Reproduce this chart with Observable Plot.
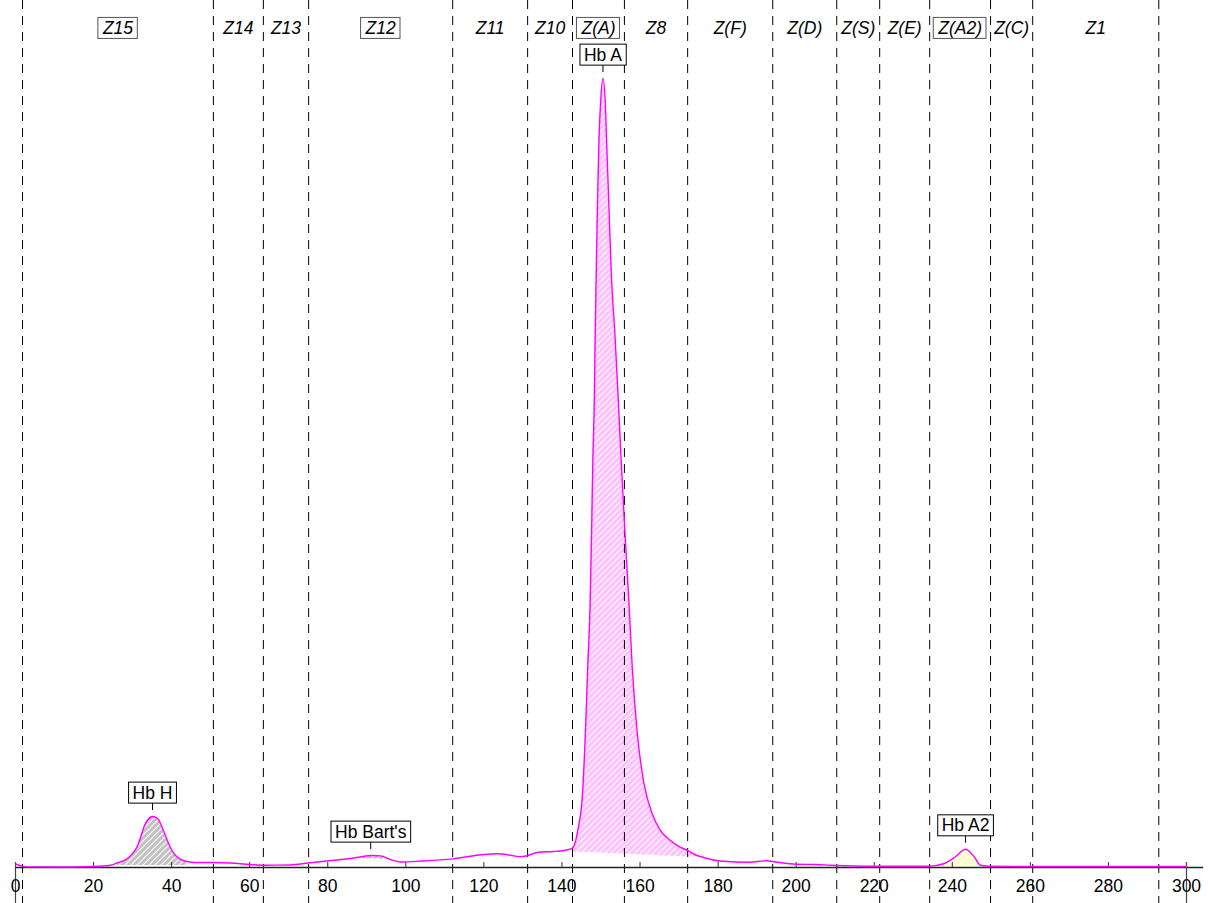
<!DOCTYPE html>
<html>
<head>
<meta charset="utf-8">
<script src="https://cdn.jsdelivr.net/npm/d3@7"></script>
<script src="https://cdn.jsdelivr.net/npm/@observablehq/plot@0.6"></script>
<style>
  html, body { margin: 0; padding: 0; background: #fff; }
  #chart { width: 1208px; height: 903px; }
</style>
</head>
<body>
<div id="chart"></div>
<script>
// ---- Data (retention time, signal) ----
const times = [0, 1.5, 2.6, 10, 20, 24.3, 26, 27.5, 28.7, 31.3, 33.3, 35.1, 36.4, 37.9, 39.2, 41, 43, 44, 46, 50.7,
  55, 60, 64, 70.5, 75, 80.9, 87, 89, 91, 93.5, 96, 98.6, 104, 112, 120, 123.5, 126.8, 129.4, 131, 133.7,
  137.8, 139.6, 141.4, 142.7, 144.2, 145.2, 146.0, 146.6, 147.2, 147.6, 147.9, 148.3, 148.5, 148.8, 149.1, 149.5, 149.9,
  150.5, 151.1, 151.4, 152.0, 152.6, 153.6, 154.4, 155.2, 156.1, 157.2, 158.0, 159.3, 161.0, 163.1, 165.2, 167.8,
  170, 172.2, 174, 176.3, 180.6, 188, 192.5, 194, 200, 205, 209, 220, 234, 238, 240.8, 243.4, 245.6, 247.2, 249.8, 260, 300];
const signal = [0.47, 0.19, 0.08, 0.06, 0.13, 0.29, 0.57, 0.82, 1.14, 2.79, 5.58, 6.47, 6.22, 4.70, 3.05, 1.52, 0.89, 0.76, 0.63, 0.63,
  0.57, 0.38, 0.29, 0.32, 0.57, 0.89, 1.23, 1.40, 1.52, 1.48, 1.02, 0.70, 0.82, 1.10, 1.65, 1.74, 1.56, 1.36, 1.48, 1.90,
  2.03, 2.09, 2.25, 2.45, 5.08, 8.88, 17.0, 25.4, 33.2, 42.8, 51.3, 59.6, 67.3, 75.8, 84.3, 92.6, 97.0,
  100.1, 97.0, 92.6, 84.3, 75.8, 67.3, 59.6, 51.3, 42.8, 33.2, 25.4, 17.0, 10.66, 6.85, 4.70, 3.43,
  2.66, 2.16, 1.65, 1.27, 0.82, 0.67, 0.85, 0.76, 0.42, 0.38, 0.29, 0.16, 0.16, 0.51, 1.36, 2.32, 1.36, 0.29, 0.16, 0.13, 0.13];

// Zones
const zoneBounds = [1.8, 50.7, 63.5, 75.1, 112.0, 131.2, 142.7, 156.0, 172.2, 194.0, 210.4, 221.4, 234.2, 249.8, 260.6, 292.9];
const zoneNames = ["Z15", "Z14", "Z13", "Z12", "Z11", "Z10", "Z(A)", "Z8", "Z(F)", "Z(D)", "Z(S)", "Z(E)", "Z(A2)", "Z(C)", "Z1"];
const boxedZones = ["Z15", "Z12", "Z(A)", "Z(A2)"];

// Peaks
const peakNames = ["Hb H", "Hb Bart's", "Hb A", "Hb A2"];
const peakTimes = [35.1, 91.0, 150.5, 243.4];
const peakHeights = [6.47, 1.52, 100.1, 2.32];

// Integrated areas (start, end, baseline at start, baseline at end, fill)
const areaStart = [26, 89, 142.7, 238];
const areaEnd = [44, 96, 176.3, 247.2];
const areaBase0 = [0.25, 1.08, 1.97, 0.13];
const areaBase1 = [0.25, 1.05, 1.27, 0.13];
const areaFill = ["url(#hatchGray)", "url(#hatchGray)", "url(#hatchPink)", "url(#hatchYellow)"];

const xTicks = [0, 20, 40, 60, 80, 100, 120, 140, 160, 180, 200, 220, 240, 260, 280, 300];

// ---- Build ----
const data = times.map((t, i) => ({t, v: signal[i]}));
const peaks = peakNames.map((name, i) => ({name, t: peakTimes[i], v: peakHeights[i]}));
const zones = zoneNames.map((name, i) => ({name, t: (zoneBounds[i] + zoneBounds[i + 1]) / 2}));

const H = 903, MB = 36, MT = 0, YMAX = 110;
const k = (H - MB - MT) / YMAX; // px per unit

const areaMarks = areaStart.map((s, j) => {
  const e = areaEnd[j];
  const sub = data.filter(d => d.t >= s && d.t <= e);
  const base = d => areaBase0[j] + (areaBase1[j] - areaBase0[j]) * (d.t - s) / (e - s);
  return Plot.areaY(sub, {x: "t", y1: base, y2: "v", fill: areaFill[j], curve: "monotone-x"});
});

const FONT = "'Liberation Sans', Arial, sans-serif";

const chart = Plot.plot({
  width: 1208,
  height: H,
  marginLeft: 15,
  marginRight: 22,
  marginTop: MT,
  marginBottom: MB,
  style: {fontFamily: FONT, fontSize: "17px", color: "#000", background: "#fff", overflow: "visible"},
  x: {domain: [0, 300], axis: null},
  y: {domain: [0, YMAX], axis: null},
  marks: [
    ...areaMarks,
    Plot.ruleX(zoneBounds, {y1: YMAX, y2: -MB / k, stroke: "#000", strokeWidth: 1, strokeDasharray: "9,7", clip: false}),
    Plot.ruleY([0], {x1: 0, x2: 304.4, stroke: "#222", strokeWidth: 1.3}),
    Plot.ruleX(xTicks, {y1: 0, y2: 5 / k, stroke: "#333", strokeWidth: 1}),
    Plot.ruleX([0, 300], {y1: 5 / k, y2: -MB / k, stroke: "#444", strokeWidth: 1.2}),
    Plot.text(xTicks, {x: d => d, y: 0, dy: 18.5, text: d => String(d), fontSize: 17.5, fill: "#000", fontFamily: FONT}),
    Plot.lineY(data, {x: "t", y: "v", stroke: "#ff00ff", strokeWidth: 1.4, curve: "monotone-x"}),
    Plot.ruleX(peaks, {x: "t", y1: d => d.v + 6 / k, y2: d => d.v + 13 / k, stroke: "#000", strokeWidth: 1}),
    Plot.text(zones, {x: "t", text: "name", frameAnchor: "top", dy: 21, fontStyle: "italic", fontSize: 17.5, fill: "#000", fontFamily: FONT}),
    Plot.text(peaks, {x: "t", y: "v", text: "name", dy: -23.5, fontSize: 17.5, fill: "#000", fontFamily: FONT})
  ]
});

document.getElementById("chart").appendChild(chart);

// patterns
const svg = d3.select(chart.tagName.toLowerCase() === "svg" ? chart : chart.querySelector("svg"));
const defs = svg.insert("defs", ":first-child");
function hatch(id, color) {
  const p = defs.append("pattern").attr("id", id).attr("patternUnits", "userSpaceOnUse")
    .attr("width", 6).attr("height", 6);
  p.append("rect").attr("width", 6).attr("height", 6).attr("fill", color);
  p.append("path").attr("d", "M0,6 L6,0 M-1.5,1.5 L1.5,-1.5 M4.5,7.5 L7.5,4.5")
    .attr("stroke", "#fff").attr("stroke-width", 1.1).attr("fill", "none");
}
hatch("hatchPink", "#ffc2ff");
hatch("hatchGray", "#c2c2c2");
hatch("hatchYellow", "#ffffc4");

// label boxes
svg.selectAll("text").each(function () {
  const txt = this.textContent;
  const isZone = boxedZones.includes(txt);
  const isPeak = peakNames.includes(txt);
  if (!isZone && !isPeak) return;
  const bb = this.getBBox();
  const r = document.createElementNS("http://www.w3.org/2000/svg", "rect");
  r.setAttribute("x", bb.x - 4);
  r.setAttribute("y", bb.y - 0.5);
  r.setAttribute("width", bb.width + 8);
  r.setAttribute("height", bb.height + 1);
  r.setAttribute("fill", "#fff");
  r.setAttribute("stroke", isZone ? "#555" : "#000");
  r.setAttribute("stroke-width", 1);
  const tr = this.getAttribute("transform");
  if (tr) r.setAttribute("transform", tr);
  this.parentNode.insertBefore(r, this);
});
</script>
</body>
</html>
